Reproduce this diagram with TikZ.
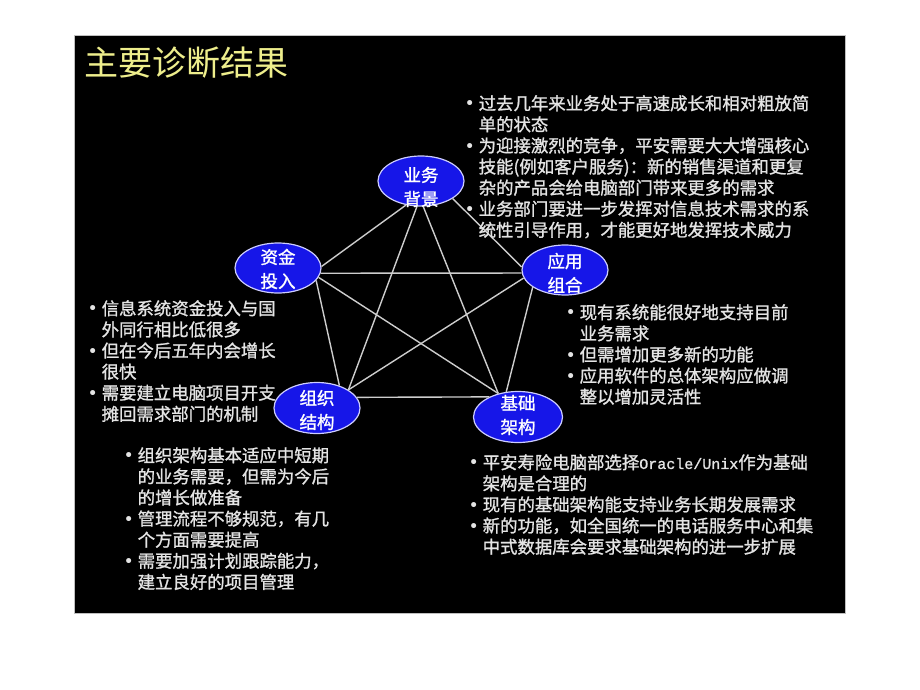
\documentclass[tikz,border=0pt]{standalone}
\usepackage{fontspec}
\usetikzlibrary{shapes.geometric}
\setmainfont{Noto Sans CJK SC}
\newfontfamily\notefont{Noto Sans CJK SC}[FakeBold=1.2]
\newfontfamily\dotfont{DejaVu Sans}
\newfontfamily\monof{Liberation Mono}[FakeBold=1.2]
\definecolor{titlecol}{RGB}{238,238,140}
\definecolor{txtcol}{RGB}{228,228,228}
\definecolor{ellfill}{RGB}{22,22,232}
\definecolor{ellline}{RGB}{205,205,255}
\definecolor{linkcol}{RGB}{205,205,205}
\newcommand\bl{\makebox[12.5pt][l]{\hspace{-1.5pt}{\dotfont •}}}
\newcommand\ct{\hspace*{12.5pt}}
\tikzset{
  bubble/.style={ellipse, draw=ellline, line width=1.2pt, fill=ellfill,
    minimum width=86pt, minimum height=50pt, inner sep=0pt},
  bubtext/.style={text=white, font=\notefont\fontsize{17.5}{24}\selectfont, align=center, inner sep=0pt},
  link/.style={draw=linkcol, line width=1.4pt},
  notes/.style={text=txtcol, font=\notefont\fontsize{17.4}{21.1}\selectfont, align=left,
    inner sep=0pt, anchor=north west},
}
\begin{document}
\begin{tikzpicture}[x=1pt,y=-1pt]
\useasboundingbox (0,0) rectangle (920,690);
\fill[white] (0,0) rectangle (920,690);
\fill[black] (74,35) rectangle (845,613);
\draw[gray!50, line width=0.8pt] (74,35) rectangle (845,613);

\node[anchor=west, text=titlecol, font=\fontsize{34}{40}\selectfont, inner sep=0pt] (title) at (84,63) {主要诊断结果};

% ellipses
\node[bubble] (yw) at (421,181) {};
\node[bubble] (zj) at (278,268) {};
\node[bubble] (yy) at (565,270) {};
\node[bubble, minimum width=86pt, minimum height=51pt] (zz) at (317,408) {};
\node[bubble, minimum width=89pt, minimum height=51pt] (jc) at (518,417) {};

% connectors
\draw[link] (yw.238) -- (zj.2);
\draw[link] (yw.261) -- (zz.30);
\draw[link] (yw.275) -- (jc.130);
\draw[link] (yw.331) -- (yy.176);
\draw[link] (zj.353) -- (yy.184);
\draw[link] (zj.342) -- (zz.45);
\draw[link] (zj.347) -- (jc.130);
\draw[link] (yy.191) -- (zz.30);
\draw[link] (yy.208) -- (jc.115);
\draw[link] (zz.15) -- (jc.145);

\node[bubtext] (ywt) at (421,187) {业务\\背景};
\node[bubtext] (zjt) at (278,269) {资金\\投入};
\node[bubtext] (yyt) at (565,273) {应用\\组合};
\node[bubtext] (zzt) at (317,410) {组织\\结构};
\node[bubtext] (jct) at (518,415) {基础\\架构};

% notes
\node[notes] (n1) at (466,95) {%
\bl 过去几年来业务处于高速成长和相对粗放简\\
\ct 单的状态\\
\bl 为迎接激烈的竞争，平安需要大大增强核心\\
\ct 技能(例如客户服务)：新的销售渠道和更复\\
\ct 杂的产品会给电脑部门带来更多的需求\\
\bl 业务部门要进一步发挥对信息技术需求的系\\
\ct 统性引导作用，才能更好地发挥技术威力};

\node[notes] (n2) at (89,300) {%
\bl 信息系统资金投入与国\\
\ct 外同行相比低很多\\
\bl 但在今后五年内会增长\\
\ct 很快\\
\bl 需要建立电脑项目开支\\
\ct 摊回需求部门的机制};

\node[notes] (n3) at (567,304) {%
\bl 现有系统能很好地支持目前\\
\ct 业务需求\\
\bl 但需增加更多新的功能\\
\bl 应用软件的总体架构应做调\\
\ct 整以增加灵活性};

\node[notes] (n4) at (125,447) {%
\bl 组织架构基本适应中短期\\
\ct 的业务需要，但需为今后\\
\ct 的增长做准备\\
\bl 管理流程不够规范，有几\\
\ct 个方面需要提高\\
\bl 需要加强计划跟踪能力，\\
\ct 建立良好的项目管理};

\node[notes] (n5) at (470,454) {%
\bl 平安寿险电脑部选择{\monof\fontsize{15}{21}\selectfont Oracle/Unix}作为基础\\
\ct 架构是合理的\\
\bl 现有的基础架构能支持业务长期发展需求\\
\bl 新的功能，如全国统一的电话服务中心和集\\
\ct 中式数据库会要求基础架构的进一步扩展};
\end{tikzpicture}
\end{document}
